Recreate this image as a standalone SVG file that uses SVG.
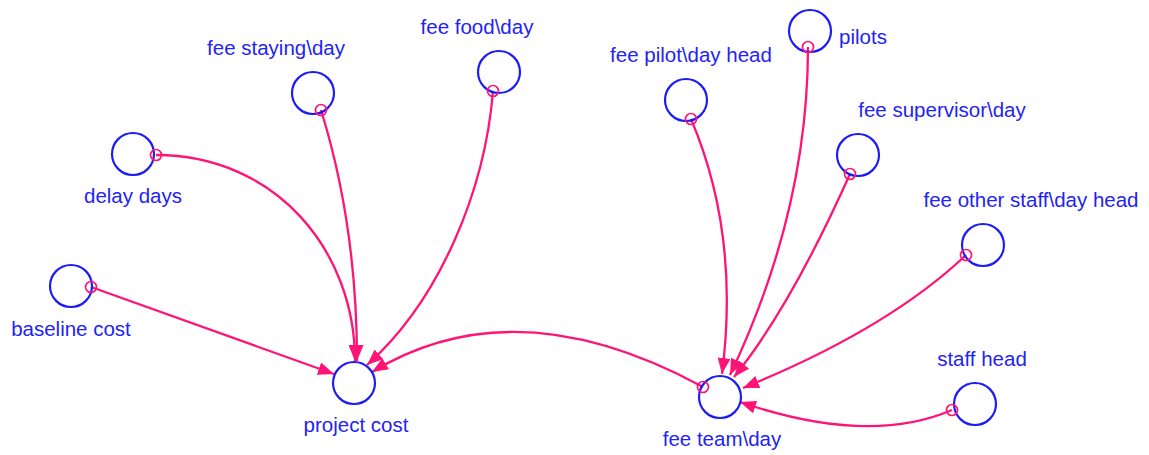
<svg xmlns="http://www.w3.org/2000/svg" width="1149" height="455" viewBox="0 0 1149 455">
  <style>
    .node { fill: none; stroke: #1c1cf5; stroke-width: 2.2; }
    .label { font-family: "Liberation Sans", Arial, sans-serif; font-size: 20.5px; fill: #2323f5; text-anchor: middle; }
    .link { fill: none; stroke: #ff1476; stroke-width: 2.3; marker-end: url(#head); }
    .tail { fill: none; stroke: #ff1476; stroke-width: 1.7; }
  </style>
  <defs>
    <marker id="head" viewBox="0 0 16 13" refX="16" refY="6.5" markerWidth="16" markerHeight="13" markerUnits="userSpaceOnUse" orient="auto">
      <path d="M0,0 L16,6.5 L0,13 Z" fill="#ff1476"/>
    </marker>
  </defs>
  <rect width="1149" height="455" fill="#ffffff"/>

  <!-- connectors -->
  <g id="connectors">
    <path class="link" d="M91,287 L334,374"/>
    <path class="link" d="M156,155 C275,155 355,250 355,361"/>
    <path class="link" d="M321,110 Q357,226 357,361"/>
    <path class="link" d="M493,91 C485,190 440,300 367,365"/>
    <path class="link" d="M703,387 Q515,285 372,372"/>
    <path class="link" d="M691,119 Q740,234 722,374"/>
    <path class="link" d="M808,47 Q808,211 730,375"/>
    <path class="link" d="M850,174 Q790,308 734,377"/>
    <path class="link" d="M966,255 Q888,329 743,388"/>
    <path class="link" d="M952,410 Q868,446 740,402"/>
  </g>

  <!-- nodes -->
  <g id="baseline-cost">
    <circle class="node" cx="71" cy="286" r="21"/>
    <circle class="tail" cx="91" cy="287" r="5.5"/>
    <text class="label" x="71" y="336">baseline cost</text>
  </g>
  <g id="project-cost">
    <circle class="node" cx="354" cy="383" r="21"/>
    <text class="label" x="356" y="432">project cost</text>
  </g>
  <g id="delay-days">
    <circle class="node" cx="133" cy="154" r="21"/>
    <circle class="tail" cx="156" cy="155" r="5.5"/>
    <text class="label" x="133" y="203">delay days</text>
  </g>
  <g id="fee-staying-day">
    <circle class="node" cx="313" cy="93" r="21"/>
    <circle class="tail" cx="321" cy="110" r="5.5"/>
    <text class="label" x="276" y="55">fee staying\day</text>
  </g>
  <g id="fee-food-day">
    <circle class="node" cx="499" cy="72" r="21"/>
    <circle class="tail" cx="493" cy="91" r="5.5"/>
    <text class="label" x="477" y="34">fee food\day</text>
  </g>
  <g id="fee-pilot-day-head">
    <circle class="node" cx="686" cy="100" r="21"/>
    <circle class="tail" cx="691" cy="119" r="5.5"/>
    <text class="label" x="691" y="62">fee pilot\day head</text>
  </g>
  <g id="pilots">
    <circle class="node" cx="810" cy="31" r="21"/>
    <circle class="tail" cx="808" cy="47" r="5.5"/>
    <text class="label" x="863" y="44">pilots</text>
  </g>
  <g id="fee-supervisor-day">
    <circle class="node" cx="858" cy="155" r="21"/>
    <circle class="tail" cx="850" cy="174" r="5.5"/>
    <text class="label" x="942" y="117">fee supervisor\day</text>
  </g>
  <g id="fee-other-staff-day-head">
    <circle class="node" cx="983" cy="245" r="21"/>
    <circle class="tail" cx="966" cy="255" r="5.5"/>
    <text class="label" x="1031" y="207">fee other staff\day head</text>
  </g>
  <g id="staff-head">
    <circle class="node" cx="975" cy="404" r="21"/>
    <circle class="tail" cx="952" cy="410" r="5.5"/>
    <text class="label" x="982" y="366">staff head</text>
  </g>
  <g id="fee-team-day">
    <circle class="node" cx="720" cy="397" r="21"/>
    <circle class="tail" cx="703" cy="387" r="5.5"/>
    <text class="label" x="722" y="446">fee team\day</text>
  </g>
</svg>
